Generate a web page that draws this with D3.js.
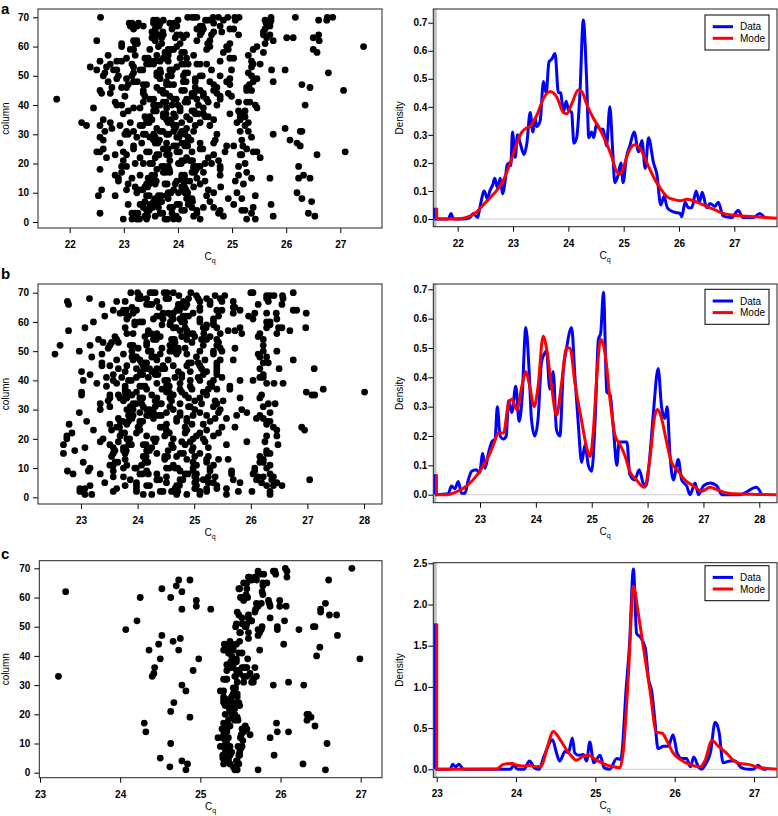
<!DOCTYPE html>
<html><head><meta charset="utf-8">
<script src="https://cdn.jsdelivr.net/npm/d3@7"></script>
<style>body{margin:0;background:#fff}</style>
</head><body>
<svg id="chart" width="778" height="816"></svg>
<script>
// ---------------- DATA ----------------
// scatter rows: [column, Cq values ...]
const scatterA = [
[70,22.57,24.18,24.26,24.35,24.75,24.92,25.13,25.72,26.17,26.76,26.86],
[69,23.55,23.61,23.73,24.00,24.51,24.56,24.84,25.06,25.61,25.72,26.60,26.75],
[68,23.10,23.27,23.55,23.67,23.85,23.92,24.66,25.63,25.70],
[67,23.12,23.36,23.92,23.98,24.41,24.78,25.70],
[66,23.18,23.58,23.89,24.35,24.47,24.96,25.03,25.61],
[65,23.52,23.58,23.72,24.44,24.66,24.81,25.58],
[64,23.58,23.73,23.98,24.16,24.41,24.62,25.12,25.58,25.70,26.60],
[63,23.52,23.70,23.95,25.64,26.01,26.13,26.50],
[62,22.50,23.18,23.24,23.58,24.35,24.59,25.76,26.61],
[61,22.96,23.21,23.70,24.04,24.96,25.61],
[60,22.96,23.64,23.98,24.59,24.90,25.46,27.43],
[59,23.12,23.48,23.82,23.92,24.53,24.93,25.39,26.50],
[58,23.76,24.07,24.84,25.58,26.57],
[57,22.71,23.21,23.61,23.82,24.29,25.30],
[56,23.05,23.39,23.73,24.04,24.16,24.96,25.03],
[55,22.56,22.87,22.96,23.52,23.67,23.82,24.78,25.36],
[54,22.75,23.15,23.42,23.55,24.07,24.19,24.35,24.41,24.53,25.39,25.52],
[53,22.38,22.68,23.18,23.98,25.36],
[52,22.50,22.81,22.87,23.30,23.67,23.85,24.62,24.99,25.73,25.98],
[51,22.65,23.18,23.61,24.13,25.30,26.78],
[50,22.62,22.90,23.15,23.61,23.82,24.10,24.41,24.78,25.36],
[49,22.87,23.05,23.67,24.32,24.96,25.46],
[48,22.71,23.18,23.79,24.10,24.32,24.59,24.90,25.39,25.76],
[47,23.08,23.36,23.79,23.92,24.66,24.96,25.32,26.29],
[46,22.78,22.96,23.05,23.61,24.32,24.72,25.27,26.44],
[45,22.56,23.36,23.67,24.07,24.41,24.66,25.27,25.36,27.06],
[44,22.59,22.75,23.36,23.73,24.26,24.47,24.72,24.93],
[43,23.02,23.39,23.85,24.26,24.47,24.78,24.99],
[42,21.76,23.48,23.92,24.16,24.35,24.53,24.78],
[41,22.84,23.36,23.73,24.13,24.56,25.12,25.27,25.33],
[40,22.87,22.96,23.55,23.67,23.89,24.38,24.72,25.43,26.35],
[39,22.44,23.18,23.30,23.79,24.04,24.47,25.46],
[38,23.08,23.55,24.04,24.26,25.12,25.24],
[37,22.99,23.73,23.92,24.32,24.47,24.96,25.15],
[36,23.39,23.48,23.73,23.95,24.16,24.50,24.56,25.15,25.24],
[35,22.62,23.42,23.52,23.79,24.22,24.66,25.15],
[34,22.22,22.75,23.12,23.42,23.82,24.07,24.41,25.09,25.30],
[33,22.31,22.56,22.93,23.30,23.92,24.32,24.59,25.24],
[32,22.78,23.61,23.95,24.16,25.98],
[31,22.65,23.05,23.18,23.67,23.92,24.07,24.29,25.15,25.30,26.26,26.29],
[30,23.02,23.08,23.36,23.55,23.79,24.04,24.13,24.72,25.76],
[29,22.56,23.24,23.48,23.58,23.98,24.19,25.36],
[28,22.62,23.55,23.61,24.19,24.69,25.18,26.07],
[27,22.93,23.33,23.58,23.79,24.07,24.41,24.66,26.20],
[26,23.18,23.92,24.13,24.90,25.03,25.20,26.26],
[25,22.62,23.18,23.73,23.82,24.41,25.27],
[24,22.50,22.56,22.99,23.42,23.98,24.26,24.87,25.39,25.46,27.09],
[23,22.84,23.05,23.61,23.79,24.66,25.15,25.18,26.57],
[22,22.68,23.30,23.58,24.16,24.56,25.52],
[21,22.99,23.85,24.07,24.22,24.75],
[20,23.21,23.36,23.48,24.01,24.50,24.62,25.24],
[19,22.96,23.05,23.70,23.82,24.29,24.41,24.78,25.12,26.23],
[18,22.56,23.61,23.79,24.29,24.78],
[17,22.96,23.73,23.85,24.26,24.47,25.27],
[16,22.84,23.30,23.52,24.07,24.78,25.12,26.32],
[15,22.90,23.15,23.45,24.07,24.35,25.36,25.70,26.23,26.44],
[14,22.90,23.55,23.98,24.10,24.22,24.50,25.06],
[13,23.08,23.42,23.58,23.76,23.95,24.41,25.21],
[12,23.21,23.39,24.07,24.29,24.79],
[11,22.59,23.05,23.30,23.92,24.10,24.56],
[10,23.24,23.82,24.01,24.13,24.66,25.09,26.20],
[9,22.53,22.84,23.42,23.64,23.79,24.53,25.43],
[8,23.58,23.82,24.16,24.26,24.93,25.18,26.29],
[7,23.39,23.55,23.70,24.22,24.59,26.47],
[6,23.08,23.30,23.48,23.61,23.98,24.19,25.03,25.72],
[5,23.36,23.48,23.64,23.85,24.26,24.47,24.66,25.39],
[4,23.42,24.07,24.35,24.78,25.18,25.24],
[3,22.56,23.15,23.21,23.67,23.89,24.35,24.75,25.36,26.41],
[2,23.39,23.58,23.92,24.29,24.84,25.76,26.53],
[1,22.99,23.15,23.24,23.42,23.76,23.92,24.01,24.41,25.27,25.43]
];
const scatterAextra = [
[70,24.30,24.65,25.05],[68,23.15,23.60],[67,23.25,23.65,24.45],[64,23.62,24.05],[63,23.58,24.10],
[61,23.25,24.55],[59,23.18,23.88],[58,23.82,24.12],[56,23.45,23.78],[55,23.58],[54,23.48,24.12],
[52,23.35,23.90],[51,23.68,24.18],[50,23.88,24.45],[48,23.25,24.15],[47,23.42,23.85],[45,23.72,24.12],
[44,23.78,24.30],[42,23.55,23.97],[41,23.78,24.18],[40,23.60,24.00],[38,23.60,24.30],[37,23.78,24.38],
[35,23.47,23.85],[34,23.47,23.88],[33,23.35,23.97],[31,23.72,24.12],[30,23.40,23.83],[29,23.53,24.02],
[28,23.66,24.24],[27,23.63,24.12],[26,23.97,24.18],[25,23.77,24.46],[24,23.47,24.03],[23,23.65,23.84],
[21,24.12,24.27],[20,23.53,24.06],[19,23.75,24.34],[18,23.84,24.34],[17,23.78,24.31],[16,23.57,24.12],
[15,23.50,24.12],[14,23.60,24.15],[13,23.47,23.80],[12,23.44,24.12],[11,23.35,24.15],[10,23.87,24.18],
[9,23.47,23.69],[8,23.63,24.21],[7,23.60,24.27],[6,23.53,24.03],[5,23.53,23.90],[4,23.47,24.12],
[3,23.26,23.72],[2,23.44,23.97],[1,23.29,23.81]
];
const scatterB = [
[70,23.88,24.00,24.22,24.31,24.47,24.63,24.94,26.00,26.04,26.75],
[69,24.04,24.73,25.04,25.37,25.54,26.28,26.34,26.41,26.56],
[68,23.15,24.01,24.16,24.50,24.90,25.07,25.22,25.46,26.28,26.57],
[67,22.76,23.63,23.78,24.34,24.81,25.10,25.28,25.49,25.69,26.31],
[66,22.78,23.37,24.16,24.25,24.72,24.87,25.28,26.13,26.55],
[65,23.90,24.38,24.72,24.84,25.10,25.69,25.72],
[64,23.57,23.75,23.98,24.69,25.10,25.40,25.49,25.81,26.75,26.81],
[63,23.69,23.78,23.92,24.45,24.54,24.63,24.98,25.69,26.07,26.28,26.45,26.98],
[62,23.42,23.84,24.34,24.60,24.80,24.90,25.43,25.96],
[61,23.81,24.28,24.45,24.63,24.75,25.10,25.34,26.04,26.46],
[60,23.22,23.95,24.04,24.58,24.78,25.10,25.34,26.28,26.34],
[59,23.95,24.43,24.57,25.22,25.34,26.34],
[58,23.07,23.78,24.63,24.84,25.16,25.40,25.81,26.28,26.49,26.55,26.97],
[57,22.78,24.19,24.75,24.87,25.60,25.72,26.69],
[56,23.81,23.92,24.19,24.34,24.87,24.98,25.17,25.46,25.84,26.16,26.46],
[55,23.60,24.13,24.40,24.78,25.01,25.28,26.13],
[54,23.31,23.63,24.28,24.60,24.87,25.13,25.22,25.40,26.22],
[53,23.39,23.54,23.66,24.16,24.66,24.96,25.43],
[52,22.63,23.16,23.51,23.87,24.16,24.57,25.16,25.40,26.22],
[51,23.48,24.01,24.43,24.72,24.84,25.46,25.72],
[50,22.97,23.90,24.19,24.57,24.72,25.10,25.34,25.49,26.22,26.46],
[49,22.54,23.37,23.75,24.40,24.69,24.87,25.34,26.13],
[48,23.19,23.90,23.98,24.25,25.04,26.16,26.28],
[47,23.63,23.92,24.04,24.34,24.54,25.19,25.46,25.69,26.75],
[46,23.37,24.07,24.16,24.90,25.07,25.40,26.22,26.31],
[45,23.37,23.51,23.81,24.10,24.45,24.63,24.87,25.10,25.40],
[44,23.66,23.98,24.16,24.34,24.43,25.13,25.40,26.16,26.50,27.12],
[43,23.01,23.78,24.07,24.25,24.72,24.93,25.22,25.40],
[42,23.16,23.57,24.04,24.31,24.78,25.16,25.40,26.22],
[41,23.45,23.72,23.98,24.19,24.66,24.78,25.07,25.49,26.16,26.22],
[40,23.04,23.57,23.84,24.48,24.93,25.10,25.34,25.81,26.04],
[39,23.28,23.63,24.34,24.75,25.28,26.28,26.41,26.57],
[38,23.45,23.78,24.04,24.13,24.51,24.93,25.31,25.63],
[37,23.78,24.16,24.43,24.75,24.96,25.25,25.40,25.63,27.28],
[36,23.01,23.78,23.98,24.51,24.78,25.16,26.98,28.01],
[35,23.01,23.51,23.66,23.90,24.25,24.63,24.84,25.22,26.19,27.08,27.13],
[34,23.51,23.69,23.81,24.04,24.34,24.57,24.90,25.10,25.81,26.16],
[33,23.48,23.75,24.31,24.60,25.01,25.37,25.51],
[32,23.34,23.92,24.07,24.37,24.75,25.13,25.40,26.31,26.43],
[31,23.51,23.87,24.10,24.31,24.57,24.90,24.93,25.34,26.22],
[30,23.34,23.81,23.92,24.16,24.63,25.01,25.46,25.84],
[29,22.97,24.04,24.28,24.51,24.75,25.10,25.43,25.93,26.34],
[28,23.84,23.92,24.16,24.37,24.75,24.98,25.22,25.75,26.16],
[27,23.66,23.90,24.28,24.69,24.87,25.37,25.57,26.10,26.22],
[26,23.10,23.69,23.84,24.04,24.69,24.87,25.28,26.28,26.34],
[25,22.79,23.51,23.81,24.04,24.51,24.96,25.16,26.28],
[24,23.63,24.01,24.40,24.84,25.49,25.72,26.40,26.90],
[23,23.22,23.54,24.04,24.51,24.87,25.22,26.46,26.95],
[22,22.84,23.72,23.98,24.51,24.84,25.10,25.43],
[21,22.75,23.69,24.16,24.48,25.04,25.34,26.28,26.46],
[20,22.75,23.39,23.81,24.28,24.63,24.98,25.16],
[19,23.34,23.66,24.31,24.78,24.93,25.19,25.93,26.25],
[18,22.69,23.51,23.84,24.10,24.60,24.84,25.57,26.48],
[17,23.07,23.57,23.75,24.25,24.63,24.98,25.25],
[16,22.89,23.60,23.75,24.16,24.54,24.96,26.28],
[15,22.69,23.57,23.78,24.34,24.75,24.81,25.10,26.28,26.34],
[14,23.54,24.10,24.48,24.69,25.01,25.25,26.16],
[13,23.78,24.48,24.87,25.22,25.43,25.60,26.22],
[12,23.04,23.60,24.13,24.98,25.22,26.16,26.22],
[11,23.51,23.57,23.81,24.07,24.63,25.04,25.34,26.34],
[10,23.16,23.75,23.95,23.98,24.51,24.66,24.98,25.28,26.07,26.28],
[9,22.76,23.13,23.57,24.16,24.75,24.98,25.28,25.66,26.07],
[8,22.86,23.34,24.04,24.19,24.34,24.84,25.04,25.66,26.04,26.34],
[7,23.57,23.75,24.51,25.01,25.25,25.37,26.13,26.22,26.40],
[6,23.87,24.34,24.75,25.04,25.16,25.69,26.10,26.37,27.04],
[5,23.42,23.98,24.51,25.01,25.25,25.34,25.81,26.19,26.46],
[4,23.16,23.78,23.98,24.16,24.69,25.04,25.40,26.28,26.40,26.55],
[3,22.98,23.07,23.63,23.98,24.66,25.01,25.22,25.40,25.57],
[2,22.98,23.57,23.98,24.40,24.60,24.66,25.10,25.22,25.78,26.02,26.34],
[1,23.07,23.19,24.10,24.25,24.69,24.87,25.10,25.57,26.34]
];
const scatterBextra = [
[70,24.26,24.52],[68,24.06,24.55],[66,24.21,24.77],[64,23.80,24.74],[62,24.39,24.85],[60,24.09,24.83],
[58,24.68,25.21],[56,24.24,24.92],[54,24.33,24.65],[52,23.92,24.62],[50,24.24,24.62],[48,23.95,24.30],
[46,24.12,24.95],[44,24.21,24.48],[42,24.09,24.36],[40,23.89,24.53],[38,24.09,24.56],[36,23.83,24.56],
[34,23.74,24.09],[32,23.97,24.42],[30,23.86,24.21],[28,24.21,24.42],[26,23.74,24.09],[24,23.68,24.45],
[22,23.77,24.56],[20,23.86,24.33],[18,23.89,24.15],[16,23.80,24.21],[14,24.15,24.53],[12,23.65,24.18],
[10,24.56,24.71],[8,24.09,24.89],[6,24.39,24.80],[4,24.21,24.74],[2,24.45,24.71]
];
const scatterC = [
[70,26.06,26.89],[69,25.72,25.91,26.08],[68,25.74,25.79,25.94],[67,25.61,25.68,26.08],
[66,24.73,24.87,25.64,25.70,26.60],[65,25.58,25.83],[64,24.70,25.78],[63,24.52,25.49,25.58],
[62,23.32,24.77,25.77],[61,25.57],[60,24.25,24.63,25.52,25.59],[59,24.95,25.85,25.99],
[58,25.70,25.76,26.56],[57,24.95,25.87,25.99,26.07],[56,24.77,25.13,25.69,26.50],[55,25.46,26.50],
[54,25.60,26.61,26.70],[53,25.52,25.87],[52,24.21,25.64,26.05],[51,25.45,25.58],
[50,25.57,25.77,25.96,26.41,26.43],[49,24.07,25.72,25.96,26.23],[48,25.49,25.74],[47,24.52,26.71],
[46,24.75,25.60],[45,24.66,25.37,25.49],[44,24.48,25.30,25.39,26.04],[43,25.32,25.41,26.49],
[42,24.36,24.73,25.29,25.37,25.74],[41,25.52],[40,25.39,26.45],[39,24.50,24.98,25.45,25.59,26.99],
[38,25.38,25.45],[37,25.33,25.41],[36,24.43,25.39,25.54,25.57,25.68],[35,24.91,25.33,25.45],
[34,24.42,25.49,25.62],[33,23.23,24.40,25.43,25.58,25.70],[32,25.29,25.32,25.66],[31,25.46,25.66,26.10],
[30,24.77,25.91,26.29],[29,25.41],[28,24.82,25.25],[27,25.41],[26,25.46],[25,25.29,25.33,25.37],
[24,24.67,25.29,25.37],[23,25.39,25.45,25.49],[22,25.36,25.43],[21,24.63],[20,25.41,26.33,26.35],
[19,24.87,25.39,26.38],[18,25.35,25.43,25.47,26.33],[17,24.30,25.29,25.34,25.95],[16,25.37,26.43],
[15,25.33,25.58],[14,24.32,25.54,25.96,26.10],[13,25.29,25.51,25.62],[12,25.22,25.28,25.87],
[11,25.31,25.53],[10,24.63,25.33,26.58],[9,25.25,25.47],[8,25.33,25.50],[7,25.49],
[6,25.28,25.37,25.49,25.92],[5,24.50,25.28],[4,24.77,25.35,25.45],[3,24.84,25.29,25.37,26.28],
[2,24.62,25.41],[1,24.82,25.43,25.46,25.72,26.56]
];
const scatterCextra = [
[69,25.93],[68,25.72],[67,25.60],[65,25.54,25.78],[63,25.48],[61,25.78],[60,25.50],[59,25.54],
[58,25.86],[57,25.72],[55,25.68],[54,25.48],[53,25.60],[52,25.64],[51,25.52],[50,25.44,25.56],
[49,25.76],[48,25.50,25.60],[47,25.72],[44,25.45],[43,25.33],[42,25.41],[41,25.35,25.48],[38,25.43],
[36,25.52,25.58],[35,25.46],[33,25.44,25.54],[32,25.33],[31,25.54,25.64],[29,25.44],[28,25.29],
[27,25.46],[26,25.29,25.39],[24,25.41,25.48],[23,25.31],[21,25.37],[20,25.31,25.43],[19,25.46],
[16,25.56],[15,25.27,25.52],[14,25.33],[12,25.35,25.50],[9,25.29,25.37,25.52],[7,25.31,25.39],
[6,25.48],[5,25.29,25.35],[4,25.46],[3,25.48]
];

// density curves [Cq, density]
const blueSpikeA = [21.575, 0.04], redSpikeA = [21.62, 0.04];
const densBlueA = [[21.575,0],[21.83,0],[21.88,0.02],[21.92,0],[22.1,0],[22.22,0.005],[22.28,0.02],[22.36,0.005],[22.40,0.04],[22.48,0.10],[22.54,0.07],[22.58,0.10],[22.63,0.12],[22.67,0.145],[22.72,0.11],[22.77,0.145],[22.81,0.09],[22.86,0.14],[22.89,0.19],[22.93,0.20],[22.96,0.19],[22.99,0.31],[23.04,0.22],[23.08,0.30],[23.13,0.27],[23.20,0.23],[23.25,0.27],[23.31,0.38],[23.36,0.31],[23.40,0.36],[23.43,0.33],[23.49,0.35],[23.55,0.49],[23.60,0.45],[23.65,0.56],[23.70,0.57],[23.76,0.59],[23.82,0.45],[23.86,0.45],[23.91,0.38],[23.96,0.42],[24.00,0.39],[24.06,0.38],[24.10,0.27],[24.15,0.29],[24.21,0.45],[24.27,0.71],[24.33,0.50],[24.37,0.29],[24.42,0.31],[24.46,0.29],[24.51,0.34],[24.57,0.32],[24.63,0.32],[24.69,0.26],[24.75,0.40],[24.80,0.25],[24.84,0.13],[24.89,0.15],[24.95,0.20],[24.99,0.13],[25.05,0.22],[25.11,0.26],[25.19,0.31],[25.27,0.24],[25.33,0.28],[25.39,0.18],[25.45,0.29],[25.54,0.20],[25.60,0.16],[25.67,0.05],[25.73,0.08],[25.79,0.04],[25.90,0.025],[26.02,0.02],[26.05,0.008],[26.11,0.06],[26.17,0.04],[26.23,0.04],[26.31,0.10],[26.37,0.06],[26.42,0.095],[26.50,0.04],[26.56,0.055],[26.65,0.045],[26.71,0.06],[26.80,0.01],[26.95,0.005],[27.07,0.03],[27.16,0.005],[27.34,0.005],[27.46,0.02],[27.55,0.003]];
const densRedA = [[21.62,0],[21.98,0],[22.10,0.003],[22.22,0.01],[22.34,0.025],[22.46,0.05],[22.58,0.075],[22.70,0.10],[22.83,0.14],[22.95,0.20],[23.07,0.27],[23.16,0.31],[23.25,0.325],[23.31,0.33],[23.43,0.37],[23.55,0.43],[23.67,0.455],[23.79,0.435],[23.91,0.38],[23.97,0.375],[24.06,0.41],[24.18,0.46],[24.24,0.455],[24.33,0.41],[24.45,0.36],[24.57,0.32],[24.69,0.27],[24.78,0.225],[24.87,0.17],[24.93,0.16],[24.99,0.18],[25.08,0.235],[25.20,0.265],[25.30,0.25],[25.42,0.20],[25.54,0.15],[25.66,0.11],[25.78,0.08],[25.90,0.07],[26.02,0.065],[26.14,0.07],[26.26,0.065],[26.44,0.05],[26.62,0.035],[26.80,0.02],[26.98,0.013],[27.22,0.01],[27.46,0.007],[27.77,0.003]];

const blueSpikeB = [22.20, 0.07], redSpikeB = [22.22, 0.07];
const densBlueB = [[22.20,0],[22.43,0.003],[22.49,0.03],[22.55,0.02],[22.61,0.045],[22.67,0.005],[22.73,0.005],[22.79,0.05],[22.85,0.08],[22.93,0.085],[22.99,0.075],[23.05,0.14],[23.09,0.09],[23.15,0.14],[23.21,0.18],[23.27,0.19],[23.31,0.30],[23.36,0.20],[23.42,0.19],[23.47,0.20],[23.51,0.32],[23.57,0.28],[23.64,0.37],[23.70,0.25],[23.75,0.32],[23.82,0.57],[23.88,0.42],[23.92,0.26],[23.98,0.20],[24.04,0.26],[24.10,0.45],[24.15,0.48],[24.19,0.49],[24.25,0.36],[24.31,0.42],[24.37,0.22],[24.43,0.20],[24.49,0.42],[24.55,0.50],[24.64,0.57],[24.70,0.40],[24.76,0.24],[24.82,0.11],[24.88,0.17],[24.94,0.10],[25.00,0.08],[25.06,0.25],[25.12,0.53],[25.16,0.55],[25.21,0.69],[25.27,0.35],[25.33,0.34],[25.39,0.22],[25.45,0.10],[25.49,0.18],[25.63,0.18],[25.68,0.07],[25.77,0.05],[25.85,0.085],[25.92,0.04],[25.97,0.03],[26.04,0.13],[26.10,0.27],[26.19,0.43],[26.25,0.30],[26.31,0.26],[26.35,0.30],[26.40,0.14],[26.46,0.05],[26.55,0.12],[26.61,0.05],[26.70,0.03],[26.76,0],[26.85,0.04],[26.91,0],[27.00,0.03],[27.12,0.04],[27.24,0.03],[27.33,0],[27.65,0],[27.95,0.025],[28.04,0]];
const densRedB = [[22.22,0],[22.40,0],[22.58,0.01],[22.76,0.03],[22.94,0.065],[23.06,0.10],[23.15,0.13],[23.24,0.17],[23.33,0.21],[23.42,0.21],[23.51,0.31],[23.57,0.325],[23.66,0.29],[23.75,0.37],[23.82,0.42],[23.89,0.37],[23.97,0.30],[24.04,0.37],[24.13,0.54],[24.19,0.50],[24.28,0.37],[24.37,0.27],[24.46,0.38],[24.55,0.50],[24.61,0.50],[24.70,0.38],[24.82,0.25],[24.91,0.16],[24.97,0.13],[25.03,0.22],[25.09,0.40],[25.16,0.53],[25.24,0.48],[25.33,0.32],[25.42,0.20],[25.51,0.17],[25.60,0.13],[25.68,0.08],[25.80,0.05],[25.94,0.025],[26.04,0.12],[26.13,0.27],[26.18,0.29],[26.25,0.26],[26.34,0.18],[26.43,0.11],[26.55,0.08],[26.67,0.05],[26.82,0.03],[26.97,0.012],[27.12,0.025],[27.27,0.015],[27.42,0.006],[27.65,0.002],[27.95,0.001],[28.31,0]];

const blueSpikeC = [22.985, 1.77], redSpikeC = [23.0, 1.77];
const densBlueC = [[22.985,0],[23.17,0],[23.20,0.06],[23.24,0.03],[23.28,0.06],[23.34,0],[23.93,0],[23.97,0.05],[24.02,0],[24.10,0],[24.17,0.10],[24.23,0.02],[24.29,0],[24.35,0.15],[24.46,0.36],[24.51,0.20],[24.55,0.10],[24.62,0.22],[24.66,0.20],[24.71,0.38],[24.74,0.20],[24.79,0.17],[24.85,0.18],[24.89,0.10],[24.93,0.33],[24.98,0.08],[25.06,0.17],[25.11,0.02],[25.18,0],[25.27,0.13],[25.32,0.12],[25.39,1.0],[25.43,1.5],[25.48,2.43],[25.52,1.65],[25.57,1.6],[25.63,1.47],[25.67,1.1],[25.71,0.95],[25.75,0.6],[25.79,0.25],[25.86,0.28],[25.92,0.28],[25.98,0.42],[26.03,0.20],[26.09,0.13],[26.15,0.13],[26.20,0.03],[26.24,0.15],[26.30,0.03],[26.34,0],[26.40,0.08],[26.45,0.20],[26.51,0.57],[26.56,0.45],[26.61,0.08],[26.70,0.10],[26.76,0.10],[26.84,0.02],[26.93,0],[26.99,0],[27.05,0.05],[27.12,0],[27.16,0]];
const densRedC = [[23.0,0],[23.76,0.005],[23.84,0.06],[23.95,0.07],[24.01,0.05],[24.09,0.04],[24.18,0.045],[24.26,0.03],[24.32,0.04],[24.39,0.25],[24.47,0.46],[24.55,0.37],[24.64,0.23],[24.70,0.16],[24.76,0.11],[24.85,0.16],[24.91,0.17],[25.00,0.12],[25.10,0.07],[25.23,0.03],[25.31,0.02],[25.35,0.20],[25.42,1.2],[25.48,2.22],[25.54,1.9],[25.61,1.45],[25.69,0.95],[25.77,0.45],[25.84,0.44],[25.90,0.35],[25.98,0.20],[26.07,0.12],[26.19,0.06],[26.32,0.03],[26.38,0.10],[26.47,0.35],[26.55,0.28],[26.66,0.19],[26.74,0.11],[26.82,0.07],[26.93,0.06],[27.03,0.03],[27.16,0.01],[27.29,0.002]];

// ticks
const xTicksA = [22,23,24,25,26,27];
const xTicksB = [23,24,25,26,27,28];
const xTicksC = [23,24,25,26,27];
const yTicksColumn = [0,10,20,30,40,50,60,70];
const yTicksDensAB = [0,0.1,0.2,0.3,0.4,0.5,0.6,0.7];
const yTicksDensC = [0,0.5,1,1.5,2,2.5];
const legendLabels = ["Data","Mode"];
const panelLetters = ["a","b","c"];

// ---------------- LAYOUT ----------------
const svg = d3.select("#chart");
const FONT = "'Liberation Sans', Arial, Helvetica, sans-serif";
let clipN = 0;

function mk(spec){
  return {
    x: d3.scaleLinear().domain(spec.xd).range(spec.xr),
    y: d3.scaleLinear().domain(spec.yd).range(spec.yr)
  };
}

function frame(g, spec, sc, xTicks, yTicks, yFmt, yPad, yTitle, id){
  const b = spec.box;
  const xa = d3.axisBottom(sc.x).tickValues(xTicks).tickSize(5).tickPadding(8).tickFormat(d3.format("d"));
  g.append("g").attr("transform",`translate(0,${b.b})`).call(xa)
    .call(s=>s.select(".domain").remove())
    .call(s=>s.selectAll("line").attr("stroke","#000"))
    .call(s=>s.selectAll("text").attr("font-family",FONT).attr("font-size",10).attr("font-weight","bold").attr("fill","#000"));
  const ya = d3.axisLeft(sc.y).tickValues(yTicks).tickSize(5).tickPadding(yPad).tickFormat(yFmt);
  g.append("g").attr("transform",`translate(${b.l},0)`).call(ya)
    .call(s=>s.select(".domain").remove())
    .call(s=>s.selectAll("line").attr("stroke","#000"))
    .call(s=>s.selectAll("text").attr("font-family",FONT).attr("font-size",10).attr("font-weight","bold").attr("fill","#000"));
  g.append("rect").attr("x",b.l).attr("y",b.t).attr("width",b.r-b.l).attr("height",b.b-b.t)
    .attr("fill","none").attr("stroke","#222").attr("stroke-width",1);
  const xt = g.append("text").attr("x",(b.l+b.r)/2).attr("y",b.b+32).attr("text-anchor","middle")
    .attr("font-family",FONT).attr("font-size",10).attr("fill","#000");
  xt.append("tspan").text("C");
  xt.append("tspan").attr("font-size",7).attr("dy",3).text("q");
  g.append("text").attr("transform",`translate(${spec.ytx},${(b.t+b.b)/2}) rotate(-90)`)
    .attr("text-anchor","middle").attr("font-family",FONT).attr("font-size",10).attr("fill","#000").text(yTitle);
  g.append("clipPath").attr("id",id).append("rect").attr("x",b.l).attr("y",b.t).attr("width",b.r-b.l).attr("height",b.b-b.t);
}

function scatter(spec, rowSets, xTicks){
  const g = svg.append("g"); const sc = mk(spec);
  frame(g, spec, sc, xTicks, yTicksColumn, d3.format("d"), 4, "column", "clip"+(clipN++));
  const pts = [];
  rowSets.forEach(rows => rows.forEach(r => r.slice(1).forEach(v => pts.push([v, r[0]]))));
  g.append("g").selectAll("circle").data(pts).join("circle")
    .attr("cx",d=>sc.x(d[0])).attr("cy",d=>sc.y(d[1])).attr("r",3.4).attr("fill","#000");
}

function density(spec, blue, red, bSpike, rSpike, xTicks, yTicks){
  const g = svg.append("g"); const sc = mk(spec);
  const id = "clip"+(clipN++);
  const b = spec.box;
  g.append("rect").attr("x",b.l).attr("y",b.t).attr("width",Math.max(0,sc.x(rSpike[0])-b.l)).attr("height",b.b-b.t).attr("fill","#bebebe");
  frame(g, spec, sc, xTicks, yTicks, d3.format(".1f"), 1, "Density", id);
  const pg = g.append("g").attr("clip-path",`url(#${id})`);
  pg.append("line").attr("x1",b.l).attr("x2",b.r).attr("y1",sc.y(0)).attr("y2",sc.y(0)).attr("stroke","#cccccc").attr("stroke-width",1);
  const line = d3.line().x(d=>sc.x(d[0])).y(d=>sc.y(d[1])).curve(d3.curveMonotoneX);
  pg.append("line").attr("x1",sc.x(bSpike[0])).attr("x2",sc.x(bSpike[0])).attr("y1",sc.y(0)).attr("y2",sc.y(bSpike[1])).attr("stroke","#0000ff").attr("stroke-width",3);
  pg.append("path").attr("d",line(blue)).attr("fill","none").attr("stroke","#0000ff").attr("stroke-width",3).attr("stroke-linejoin","round");
  pg.append("line").attr("x1",sc.x(rSpike[0])).attr("x2",sc.x(rSpike[0])).attr("y1",sc.y(0)).attr("y2",sc.y(rSpike[1])).attr("stroke","#ff0000").attr("stroke-width",3);
  pg.append("path").attr("d",line(red)).attr("fill","none").attr("stroke","#ff0000").attr("stroke-width",3).attr("stroke-linejoin","round");
  const L = spec.leg;
  const lg = g.append("g");
  lg.append("rect").attr("x",L.x).attr("y",L.y).attr("width",64).attr("height",35).attr("fill","#fff").attr("stroke","#000").attr("stroke-width",1);
  ["#0000ff","#ff0000"].forEach((c,i)=>{
    const yy = L.y + 11.7 + i*11.6;
    lg.append("line").attr("x1",L.x+7.7).attr("x2",L.x+28).attr("y1",yy).attr("y2",yy).attr("stroke",c).attr("stroke-width",3);
    lg.append("text").attr("x",L.x+35).attr("y",yy).attr("dy","0.35em").attr("font-family",FONT).attr("font-size",10).attr("fill","#000").text(legendLabels[i]);
  });
}

const specs = {
  sA:{box:{l:38,t:9,r:382,b:228}, xd:[22,27], xr:[69.7,340.3], yd:[0,70], yr:[222,17.3], ytx:9},
  dA:{box:{l:433.3,t:9,r:777,b:226.7}, xd:[22,27], xr:[457.7,734.3], yd:[0,0.7], yr:[219,22.7], ytx:403, leg:{x:705,y:15}},
  sB:{box:{l:38,t:284,r:382,b:504}, xd:[23,28], xr:[81,364], yd:[0,70], yr:[497.3,292.7], ytx:9},
  dB:{box:{l:433.3,t:284,r:777,b:502.7}, xd:[23,28], xr:[480,759.3], yd:[0,0.7], yr:[494.7,289.3], ytx:403, leg:{x:705,y:289.3}},
  sC:{box:{l:39.3,t:560.7,r:382,b:777.7}, xd:[23,27], xr:[40,360.7], yd:[0,70], yr:[772.7,568.3], ytx:9},
  dC:{box:{l:433.3,t:562.7,r:777,b:777.3}, xd:[23,27], xr:[436.7,754], yd:[0,2.5], yr:[769.3,563.3], ytx:403, leg:{x:705,y:565.7}}
};

scatter(specs.sA, [scatterA, scatterAextra], xTicksA);
density(specs.dA, densBlueA, densRedA, blueSpikeA, redSpikeA, xTicksA, yTicksDensAB);
scatter(specs.sB, [scatterB, scatterBextra], xTicksB);
density(specs.dB, densBlueB, densRedB, blueSpikeB, redSpikeB, xTicksB, yTicksDensAB);
scatter(specs.sC, [scatterC, scatterCextra], xTicksC);
density(specs.dC, densBlueC, densRedC, blueSpikeC, redSpikeC, xTicksC, yTicksDensC);

// panel letters
[[1,14],[1,279],[1,559]].forEach((p,i)=>{
  svg.append("text").attr("x",p[0]).attr("y",p[1]).attr("font-family",FONT).attr("font-size",15).attr("font-weight","bold").attr("fill","#000").text(panelLetters[i]);
});
</script>
</body></html>
